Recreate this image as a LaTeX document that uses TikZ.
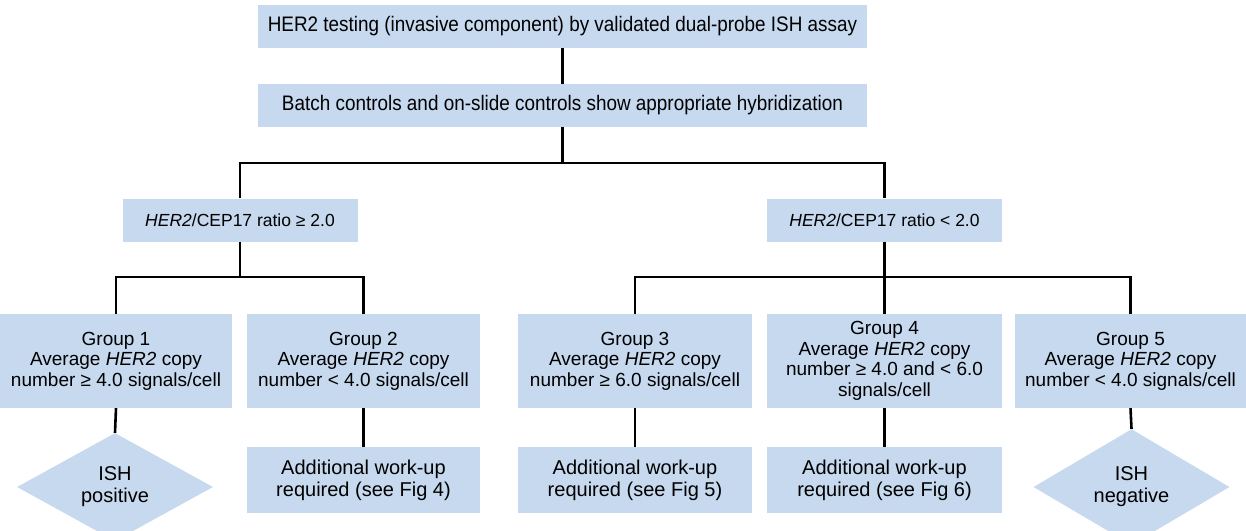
\documentclass[tikz,border=0pt]{standalone}
\usepackage{fontspec}
\setmainfont{Liberation Sans}
\newfontfamily\narrowfont{Liberation Sans}[FakeStretch=0.9]
\usetikzlibrary{shapes.geometric}
\definecolor{boxblue}{RGB}{198,217,238}
\tikzset{
  box/.style={fill=boxblue, draw=none, inner sep=0pt, align=center, font=\fontsize{19}{20.5}\selectfont},
  topbox/.style={box, minimum width=609pt, minimum height=43pt, font=\narrowfont\fontsize{21}{23}\selectfont},
  ratiobox/.style={box, minimum width=235pt, minimum height=43pt, font=\fontsize{17.5}{21}\selectfont},
  groupbox/.style={box, minimum height=94pt},
  workbox/.style={box, minimum height=66pt, font=\fontsize{20}{22}\selectfont},
  result/.style={diamond, fill=boxblue, inner sep=0pt, minimum width=196pt, minimum height=80pt, align=center, font=\fontsize{20}{22}\selectfont},
  conn/.style={line width=2.6pt, black}
}
\begin{document}
\begin{tikzpicture}[x=1pt,y=-1pt]
\useasboundingbox (0,0) rectangle (1246,530);
\node[topbox] (t1) at (562.5,26) {HER2 testing (invasive component) by validated dual-probe ISH assay};
\node[topbox] (t2) at (562.5,105.5) {Batch controls and on-slide controls show appropriate hybridization};
\node[ratiobox] (r1) at (240,220) {\textit{HER2}/CEP17 ratio ≥ 2.0};
\node[ratiobox] (r2) at (884.5,220) {\textit{HER2}/CEP17 ratio < 2.0};
\node[groupbox, minimum width=232pt] (g1) at (116,361) {Group 1\\Average \textit{HER2} copy\\number ≥ 4.0 signals/cell};
\node[groupbox, minimum width=233pt] (g2) at (363.5,361) {Group 2\\Average \textit{HER2} copy\\number < 4.0 signals/cell};
\node[groupbox, minimum width=234pt] (g3) at (635,361) {Group 3\\Average \textit{HER2} copy\\number ≥ 6.0 signals/cell};
\node[groupbox, minimum width=235pt] (g4) at (884.5,361) {Group 4\\Average \textit{HER2} copy\\number ≥ 4.0 and < 6.0\\signals/cell};
\node[groupbox, minimum width=231pt] (g5) at (1130.5,361) {Group 5\\Average \textit{HER2} copy\\number < 4.0 signals/cell};
\node[result] (d1) at (115,487) {ISH\\positive};
\node[workbox, minimum width=233pt] (w2) at (363.5,480) {Additional work-up\\required (see Fig 4)};
\node[workbox, minimum width=234pt] (w3) at (635,480) {Additional work-up\\required (see Fig 5)};
\node[workbox, minimum width=235pt] (w4) at (884.5,480) {Additional work-up\\required (see Fig 6)};
\node[result] (d5) at (1131.5,487) {ISH\\negative};
\coordinate (bus1) at (562.5,163);
\coordinate (bus2) at (240,277);
\coordinate (bus3) at (884.5,277);
\draw[conn] (t1.south) -- (t2.north);
\draw[conn] (t2.south) -- (bus1);
\draw[conn] (r1.north) |- (bus1) -| (r2.north);
\draw[conn] (r1.south) -- (bus2);
\draw[conn] (g1.north) |- (bus2) -| (g2.north);
\draw[conn] (r2.south) -- (bus3);
\draw[conn] (g3.north) |- (bus3) -| (g5.north);
\draw[conn] (bus3) -- (g4.north);
\draw[conn] (g1.south) -- (d1.north);
\draw[conn] (g2.south) -- (w2.north);
\draw[conn] (g3.south) -- (w3.north);
\draw[conn] (g4.south) -- (w4.north);
\draw[conn] (g5.south) -- (d5.north);
\end{tikzpicture}
\end{document}
